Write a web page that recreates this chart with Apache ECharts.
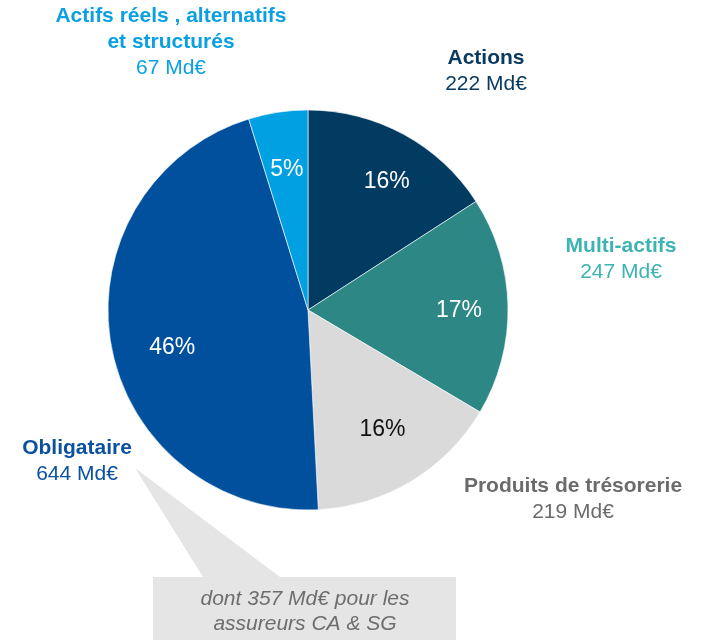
<!DOCTYPE html>
<html>
<head>
<meta charset="utf-8">
<script src="https://cdn.jsdelivr.net/npm/echarts@6/dist/echarts.min.js"></script>
<style>
  html, body { margin: 0; padding: 0; background: #fff; }
  #chart { width: 701px; height: 640px; }
</style>
</head>
<body>
<div id="chart"></div>
<script>
// encours par classe d'actifs (Md€), dans le sens horaire depuis midi
var categories = ['Actions', 'Multi-actifs', 'Produits de trésorerie', 'Obligataire', 'Actifs réels , alternatifs\net structurés'];
var amounts = [222, 247, 219, 644, 67];
var shares = ['16%', '17%', '16%', '46%', '5%'];
var calloutLines = ['dont 357 Md€ pour les', 'assureurs CA & SG'];

var sliceColors = ['#023b62', '#2d8785', '#dadada', '#00509e', '#00a0e2'];
var labelColors = ['#0a3a60', '#3db3b3', '#6b6b6b', '#0b51a0', '#0aa0e2'];
var shareColors = ['#ffffff', '#ffffff', '#111111', '#ffffff', '#ffffff'];
// emplacement des étiquettes extérieures (centre du bloc de texte)
var outerLabelPos = [[486, 71], [621, 259], [573, 499], [77, 461], [171, 42]];
// petit décalage des pourcentages par rapport au milieu de la part
var innerLabelShift = [[8, 2], [3, 3], [-2, -7], [10, 12], [1, 6]];

var FONT = '"Liberation Sans", Arial, sans-serif';
var CX = 308, CY = 310, R = 200;

var chart = echarts.init(document.getElementById('chart'), null, {renderer: 'canvas'});

function outerData(){
	var res = [];
	for(var i = 0; i < categories.length; i++){
		var nameRich = categories[i].split('\n').map(function(l){ return '{b|' + l + '}'; }).join('\n');
		res.push({
			name: categories[i],
			value: amounts[i],
			itemStyle: {color: sliceColors[i]},
			label: {
				formatter: nameRich + '\n{v|' + amounts[i] + ' Md€}',
				rich: {
					b: {fontFamily: FONT, fontSize: 21, fontWeight: 'bold', color: labelColors[i], lineHeight: 26, align: 'center'},
					v: {fontFamily: FONT, fontSize: 21, color: labelColors[i], lineHeight: 26, align: 'center'}
				}
			}
		});
	}
	return res;
}

function innerData(){
	var res = [];
	for(var i = 0; i < categories.length; i++){
		res.push({
			name: categories[i],
			value: amounts[i],
			label: {formatter: shares[i], color: shareColors[i]}
		});
	}
	return res;
}

var option = {
	animation: false,
	series: [{
		type: 'pie',
		center: [CX, CY],
		radius: [0, R],
		startAngle: 90,
		clockwise: true,
		silent: true,
		itemStyle: {borderColor: '#ffffff', borderWidth: 0.6},
		label: {show: true, position: 'outside', overflow: 'none', edgeDistance: 0, bleedMargin: 0},
		labelLine: {show: false},
		labelLayout: function(params){
			var p = outerLabelPos[params.dataIndex];
			return {x: p[0], y: p[1], align: 'center', verticalAlign: 'middle'};
		},
		data: outerData()
	}, {
		type: 'pie',
		center: [CX, CY],
		radius: [90, R],
		startAngle: 90,
		clockwise: true,
		silent: true,
		z: 3,
		itemStyle: {color: 'rgba(0,0,0,0)'},
		label: {show: true, position: 'inside', fontFamily: FONT, fontSize: 23},
		labelLine: {show: false},
		labelLayout: function(params){
			var s = innerLabelShift[params.dataIndex];
			return {dx: s[0], dy: s[1]};
		},
		data: innerData()
	}],
	graphic: [{
		type: 'polygon',
		shape: {points: [[135, 468], [203, 577], [280, 577]]},
		style: {fill: '#e5e5e5'},
		z: 1
	}, {
		type: 'rect',
		shape: {x: 153, y: 577, width: 303, height: 70},
		style: {fill: '#e5e5e5'},
		z: 1
	}, {
		type: 'text',
		x: 305,
		y: 612,
		z: 2,
		style: {
			text: calloutLines.join('\n'),
			font: 'italic 21px ' + FONT,
			fill: '#6d6d6d',
			align: 'center',
			verticalAlign: 'middle',
			lineHeight: 25
		}
	}]
};
chart.setOption(option);
</script>
</body>
</html>
